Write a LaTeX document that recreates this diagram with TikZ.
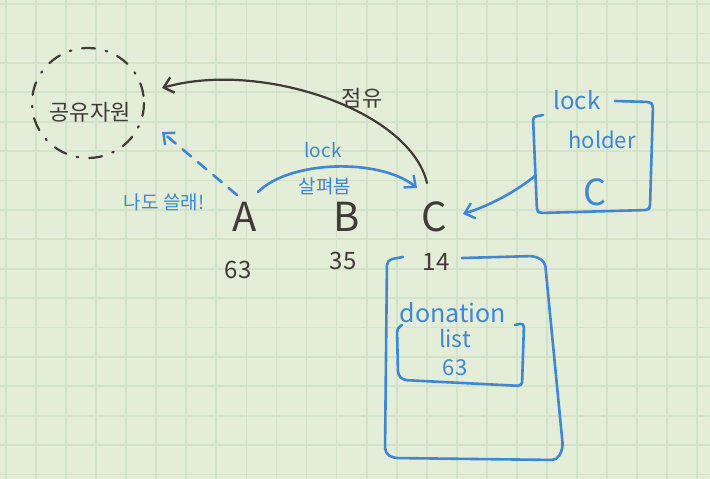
\documentclass[tikz,border=0pt]{standalone}
\usepackage{fontspec}
\setmainfont{Noto Sans CJK KR}
\usetikzlibrary{arrows.meta}
\definecolor{paper}{HTML}{E3EDD8}
\definecolor{gridc}{HTML}{D3E2C8}
\definecolor{ink}{HTML}{403B36}
\definecolor{pen}{HTML}{3F87D2}
\tikzset{
  inkline/.style={draw=ink, line width=2.2pt, line cap=round, line join=round},
  penline/.style={draw=pen, line width=2.6pt, line cap=round, line join=round},
  tip/.style={-{Straight Barb[length=9pt,width=16pt,line width=2.4pt]}},
  inktext/.style={text=ink, inner sep=0pt},
  pentext/.style={text=pen, inner sep=0pt},
}
\begin{document}
\begin{tikzpicture}[x=1pt,y=-1pt]
\useasboundingbox (0,0) rectangle (710,479);
\fill[paper] (0,0) rectangle (710,479);
\foreach \k in {0,...,23} \draw[gridc, line width=1.8pt] ({6+30.05*\k},0) -- ({6+30.05*\k},479);
\foreach \k in {0,...,16} \draw[gridc, line width=1.8pt] (0,{4+29.4*\k}) -- (710,{4+29.4*\k});

% shared resource
\draw[inkline, dash pattern=on 13pt off 11pt on 1.5pt off 11pt] (88,103) ellipse [x radius=56, y radius=55];
\node[inktext, font=\fontsize{22}{22}\selectfont] (res) at (90,112) {공유자원};

% A B C and values
\node[inktext, font=\fontsize{40}{40}\selectfont] (a) at (245,217) {A};
\node[inktext, font=\fontsize{40}{40}\selectfont] (b) at (347,217) {B};
\node[inktext, font=\fontsize{40}{40}\selectfont] (c) at (434,217) {C};
\node[inktext, font=\fontsize{24}{24}\selectfont] (va) at (238,270) {63};
\node[inktext, font=\fontsize{24}{24}\selectfont] (vb) at (343,261) {35};
\node[inktext, font=\fontsize{24}{24}\selectfont] (vc) at (436,262) {14};

% endpoints
\coordinate (cTop) at (427,183);
\coordinate (resR) at (162,88);
\coordinate (resRB) at (162,132);
\coordinate (aTopL) at (237,195);
\coordinate (aTopR) at (258,192);
\coordinate (cTopL) at (417,188);
\coordinate (cRight) at (463,214);
\coordinate (lhLeft) at (535,176);

% occupy arrow
\draw[inkline, tip] (cTop) .. controls (410,110) and (260,60) .. (resR);
\node[inktext, font=\fontsize{22}{22}\selectfont] (occ) at (362,98) {점유};

% "me too" dashed arrow
\draw[penline, tip, dash pattern=on 11pt off 9pt] (aTopL) -- (resRB);
\node[pentext, font=\fontsize{19}{19}\selectfont] (metoo) at (164,202) {나도 쓸래!};

% lock look arrow
\draw[penline, tip] (aTopR) .. controls (290,160) and (380,158) .. (cTopL);
\node[pentext, font=\fontsize{19}{19}\selectfont] (lk) at (323,150) {lock};
\node[pentext, font=\fontsize{19}{19}\selectfont] (look) at (325,186) {살펴봄};

% lock holder box
\draw[penline, rounded corners=3pt] (543,115) -- (533,117) -- (537,211) -- (540,213) -- (648,210) -- (650,207) -- (653,105) -- (650,102) -- (615,101);
\node[pentext, font=\fontsize{24}{24}\selectfont] (lhl) at (577,100) {lock};
\node[pentext, font=\fontsize{22}{22}\selectfont] (lhh) at (602,140) {holder};
\node[pentext, font=\fontsize{36}{36}\selectfont] (lhc) at (595,192) {C};
\draw[penline, tip] (lhLeft) .. controls (515,192) and (491,205) .. (cRight);

% big box
\draw[penline, rounded corners=5pt] (403,257) -- (387,260) -- (385,453) -- (393,458) -- (557,460) -- (563,448) -- (545,262) -- (535,256) -- (462,258);
% donation list
\node[pentext, font=\fontsize{25}{25}\selectfont] (don) at (453,313) {donation};
\node[pentext, font=\fontsize{23}{23}\selectfont] (lst) at (455,338) {list};
\node[pentext, font=\fontsize{22}{22}\selectfont] (dv) at (455,368) {63};
\draw[penline, rounded corners=4pt] (402,325) -- (397,328) -- (398,375) -- (403,380) -- (522,386) -- (524,323) -- (515,325);
\end{tikzpicture}
\end{document}
